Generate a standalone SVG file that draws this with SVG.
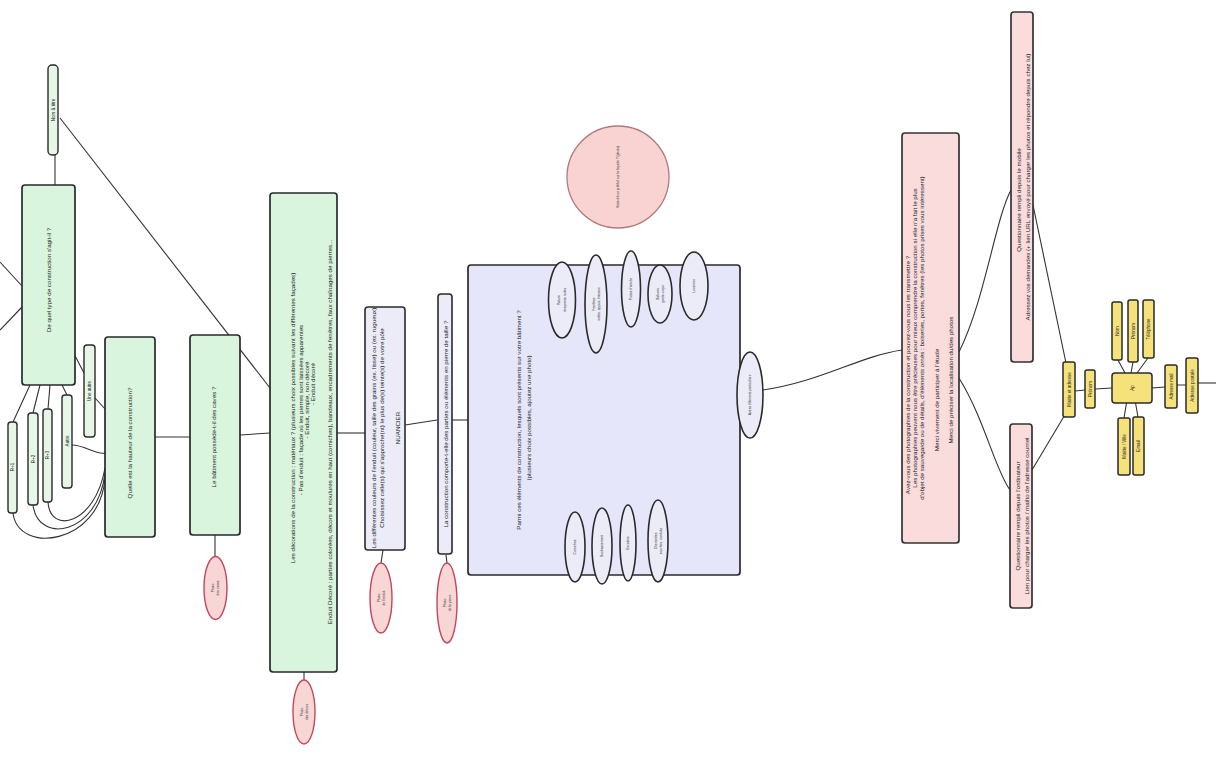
<svg xmlns="http://www.w3.org/2000/svg" width="1216" height="765" viewBox="0 0 1216 765">
<style>
text{font-family:"Liberation Sans",Arial,sans-serif;fill:#222;dominant-baseline:central;text-anchor:middle}
.g{fill:#d9f5dd;stroke:#2a2a2a;stroke-width:1.7}
.gs{fill:#e6f7e8;stroke:#2a2a2a;stroke-width:1.4}
.l{fill:#e6e6fa;stroke:#2a2a2a;stroke-width:1.7}
.p{fill:#fadcdc;stroke:#333;stroke-width:1.7}
.r{fill:#f8d6d6;stroke:#c0485a;stroke-width:1.4}
.w{fill:#ececf8;stroke:#2a2a2a;stroke-width:1.6}
.y{fill:#f6e27a;stroke:#2a2a2a;stroke-width:1.5}
.c{fill:none;stroke:#333;stroke-width:1.1}
.t6{font-size:6.2px}
.t5{font-size:4.5px}
.t3{font-size:3.3px}
</style>
<rect width="1216" height="765" fill="#fff"/>
<g id="connectors">
<path class="c" d="M0,262 L22,286 M0,330 L22,307"/>
<path class="c" d="M55,155 L55,185"/>
<path class="c" d="M60,118 L270,388"/>
<path class="c" d="M30,385 L13,422 M40,385 L33,413 M50,385 L48,409 M62,385 L67,395"/>
<path class="c" d="M72,350 L84,373 M95,398 L106,410"/>
<path class="c" d="M72,445 C85,445 95,455 105,453"/>
<path class="c" d="M48,502 C50,535 95,525 105,468"/>
<path class="c" d="M33,505 C38,545 98,535 105,473"/>
<path class="c" d="M13,513 C18,555 100,545 105,478"/>
<path class="c" d="M155,437 L190,437"/>
<path class="c" d="M240,435 L270,433"/>
<path class="c" d="M215,535 L215,557"/>
<path class="c" d="M304,672 L304,680"/>
<path class="c" d="M337,433 L365,433"/>
<path class="c" d="M405,425 L437,420"/>
<path class="c" d="M383,550 L381,563"/>
<path class="c" d="M446,555 L447,563"/>
<path class="c" d="M452,420 L468,420"/>
<path class="c" d="M763,390 C820,382 860,356 902,350"/>
<path class="c" d="M959,352 C985,300 995,220 1011,190"/>
<path class="c" d="M959,378 C985,420 995,470 1010,490"/>
<path class="c" d="M1033,205 L1066,363"/>
<path class="c" d="M1032,470 L1066,413"/>
<path class="c" d="M1075,391 L1085,390 M1095,389 L1112,388"/>
<path class="c" d="M1125,373 L1118,360 M1131,373 L1133,362 M1137,373 L1148,358"/>
<path class="c" d="M1127,400 L1124,418 M1135,400 L1138,417"/>
<path class="c" d="M1152,388 L1165,387 M1177,385 L1186,385"/>
<path class="c" d="M1198,383 L1216,383" stroke="#888"/>
</g>
<g id="n_titre"><rect class="gs" x="48" y="65" width="10" height="90" rx="4"/><text class="t5" transform="translate(53,110) rotate(-90)">Nom &amp; titre</text></g>
<g id="n_type"><rect class="g" x="22" y="185" width="53" height="200" rx="3"/><text class="t6" transform="translate(48,280) rotate(-90)">De quel type de construction s'agit-il ?</text></g>
<g id="n_opt1"><rect class="gs" x="84" y="345" width="11" height="92" rx="3"/><text class="t5" transform="translate(89.5,391) rotate(-90)">Une autre</text></g>
<g id="n_opt2"><rect class="gs" x="62" y="395" width="10" height="93" rx="3"/><text class="t5" transform="translate(67,441) rotate(-90)">Autre</text></g>
<g id="n_opt3"><rect class="gs" x="43" y="409" width="9" height="93" rx="3"/><text class="t5" transform="translate(47.5,455) rotate(-90)">R+3</text></g>
<g id="n_opt4"><rect class="gs" x="28" y="413" width="10" height="92" rx="3"/><text class="t5" transform="translate(33,459) rotate(-90)">R+2</text></g>
<g id="n_opt5"><rect class="gs" x="8" y="422" width="9" height="91" rx="3"/><text class="t5" transform="translate(12.5,467) rotate(-90)">R+1</text></g>
<g id="n_hauteur"><rect class="g" x="105" y="337" width="50" height="200" rx="3"/><text class="t6" transform="translate(129,443) rotate(-90)">Quelle est la hauteur de la construction?</text></g>
<g id="n_caves"><rect class="g" x="190" y="335" width="50" height="200" rx="3"/><text class="t6" transform="translate(213,437) rotate(-90)">Le bâtiment possède-t-il des caves ?</text></g>
<g id="n_r1"><ellipse class="r" cx="215.5" cy="588" rx="11.5" ry="31.5"/><text class="t3" transform="translate(213,588) rotate(-90)">Photo</text><text class="t3" transform="translate(218,588) rotate(-90)">des caves</text></g>
<g id="n_decor"><rect class="g" x="270" y="193" width="67" height="479" rx="3"/>
<text class="t6" transform="translate(292,418) rotate(-90)">Les décorations de la construction : matériaux ? (plusieurs choix possibles suivant les différentes façades)</text>
<text class="t6" transform="translate(300,410) rotate(-90)">- Pas d'enduit : façade où les pierres sont laissées apparentes</text>
<text class="t6" transform="translate(306,400) rotate(-90)">- Enduit, simple, non décoré</text>
<text class="t6" transform="translate(312,384) rotate(-90)">- Enduit décoré</text>
<text class="t6" transform="translate(329,432) rotate(-90)">Enduit Décoré : parties colorées, décors et moulures en haut (corniches), bandeaux, encadrements de fenêtres, faux chaînages de pierres...</text>
</g>
<g id="n_r2"><ellipse class="r" cx="304" cy="712" rx="11" ry="32"/><text class="t3" transform="translate(302,712) rotate(-90)">Photo</text><text class="t3" transform="translate(307,712) rotate(-90)">des décors</text></g>
<g id="n_couleur"><rect class="w" x="365" y="307" width="40" height="243" rx="3"/>
<text class="t6" transform="translate(373,428) rotate(-90)">Les différentes couleurs de l'enduit (couleur, taille des grains (ex. lisse) ou (ex. rugueux)</text>
<text class="t6" transform="translate(381,428) rotate(-90)">Choisissez celle(s) qui s'approche(nt) le plus de(s) teinte(s) de votre pôle</text>
<text class="t6" transform="translate(397,428) rotate(-90)">NUANCIER</text>
</g>
<g id="n_r3"><ellipse class="r" cx="381" cy="598" rx="11" ry="35"/><text class="t3" transform="translate(379,598) rotate(-90)">Photo</text><text class="t3" transform="translate(384,598) rotate(-90)">de l'enduit</text></g>
<g id="n_pierre"><rect class="w" x="438" y="294" width="14" height="260" rx="3"/><text class="t6" transform="translate(445,424) rotate(-90)">La construction comporte-t-elle des parties ou éléments en pierre de taille ?</text></g>
<g id="n_r4"><ellipse class="r" cx="447" cy="603" rx="10" ry="40"/><text class="t3" transform="translate(445,603) rotate(-90)">Photo</text><text class="t3" transform="translate(450,603) rotate(-90)">de la pierre</text></g>
<g id="n_elements"><rect class="l" x="468" y="265" width="272" height="310" rx="3"/>
<text class="t6" transform="translate(518,420) rotate(-90)">Parmi ces éléments de construction, lesquels sont présents sur votre bâtiment ?</text>
<text class="t6" transform="translate(528,418) rotate(-90)">(plusieurs choix possibles, ajoutez une photo)</text>
</g>
<g id="n_e1"><ellipse class="w" cx="562" cy="300" rx="13.5" ry="38"/><text class="t3" transform="translate(559,300) rotate(-90)">Toiture</text><text class="t3" transform="translate(565,300) rotate(-90)">charpente, tuiles</text></g>
<g id="n_e2"><ellipse class="w" cx="596" cy="304" rx="11" ry="49"/><text class="t3" transform="translate(594,304) rotate(-90)">Fenêtres</text><text class="t3" transform="translate(599,304) rotate(-90)">volets, appuis, linteaux</text></g>
<g id="n_e3"><ellipse class="w" cx="631" cy="289" rx="9.5" ry="38"/><text class="t3" transform="translate(631,289) rotate(-90)">Portes d'entrée</text></g>
<g id="n_e4"><ellipse class="w" cx="660" cy="294" rx="12" ry="29"/><text class="t3" transform="translate(658,294) rotate(-90)">Balcons</text><text class="t3" transform="translate(663,294) rotate(-90)">garde-corps</text></g>
<g id="n_e5"><ellipse class="w" cx="694" cy="286" rx="14" ry="34"/><text class="t3" transform="translate(694,286) rotate(-90)">Lucarnes</text></g>
<g id="n_b1"><ellipse class="w" cx="575" cy="547" rx="10" ry="35"/><text class="t3" transform="translate(575,547) rotate(-90)">Corniches</text></g>
<g id="n_b2"><ellipse class="w" cx="602" cy="546" rx="10" ry="38"/><text class="t3" transform="translate(602,546) rotate(-90)">Soubassement</text></g>
<g id="n_b3"><ellipse class="w" cx="628" cy="543" rx="8" ry="38"/><text class="t3" transform="translate(628,543) rotate(-90)">Escaliers</text></g>
<g id="n_b4"><ellipse class="w" cx="658" cy="541" rx="10" ry="41"/><text class="t3" transform="translate(656,541) rotate(-90)">Cheminées</text><text class="t3" transform="translate(661,541) rotate(-90)">souches, conduits</text></g>
<g id="n_autres"><ellipse class="w" cx="750" cy="395" rx="13" ry="43"/><text class="t3" transform="translate(750,395) rotate(-90)">Autres éléments particuliers</text></g>
<g id="n_prefere"><circle cx="618" cy="177" r="51" fill="#f9d2d2" stroke="#b07a7a" stroke-width="1.3"/><text class="t3" transform="translate(618,177) rotate(-90)">Votre décor préféré sur la façade ? (photo)</text></g>
<g id="n_photos"><rect class="p" x="902" y="133" width="57" height="410" rx="3"/>
<text class="t6" transform="translate(907,375) rotate(-90)">Avez-vous des photographies de la construction et pouvez-vous nous les transmettre ?</text>
<text class="t6" transform="translate(914,338) rotate(-90)">Les photographies peuvent nous être précieuses pour mieux comprendre la construction si elle n'a fait le plus</text>
<text class="t6" transform="translate(921,338) rotate(-90)">d'objet de sauvegarde ou de détails, d'éléments ornés : boiseries, portes, fenêtres (les photos prises vous intéressent)</text>
<text class="t6" transform="translate(936,400) rotate(-90)">Merci vivement de participer à l'étude</text>
<text class="t6" transform="translate(950,380) rotate(-90)">Merci de préciser la localisation du/des photos</text>
</g>
<g id="n_mobile"><rect class="p" x="1011" y="12" width="22" height="350" rx="3"/>
<text class="t6" transform="translate(1018,200) rotate(-90)">Questionnaire rempli depuis le mobile</text>
<text class="t6" transform="translate(1027,187) rotate(-90)">Adressez vos demandes (+ lien URL envoyé pour charger les photos et répondre depuis chez lui)</text>
</g>
<g id="n_ordi"><rect class="p" x="1010" y="424" width="22" height="184" rx="3"/>
<text class="t6" transform="translate(1017,516) rotate(-90)">Questionnaire rempli depuis l'ordinateur</text>
<text class="t6" transform="translate(1026,516) rotate(-90)">Lien pour charger les photos / mailto de l'adresse courriel</text>
</g>
<g id="n_mairie"><rect class="y" x="1063" y="362" width="12" height="55" rx="2"/><text class="t5" transform="translate(1069,389.5) rotate(-90)">Mairie et adresse</text></g>
<g id="n_prenom"><rect class="y" x="1085" y="370" width="10" height="38" rx="2"/><text class="t5" transform="translate(1090,389) rotate(-90)">Prénom</text></g>
<g id="n_ap"><rect class="y" x="1112" y="373" width="40" height="30" rx="3"/><text class="t5" transform="translate(1132,388) rotate(-90)">Ap</text></g>
<g id="n_t1"><rect class="y" x="1112" y="302" width="10" height="58" rx="2"/><text class="t5" transform="translate(1117,331) rotate(-90)">Nom</text></g>
<g id="n_t2"><rect class="y" x="1128" y="300" width="10" height="62" rx="2"/><text class="t5" transform="translate(1133,331) rotate(-90)">Prénom</text></g>
<g id="n_t3"><rect class="y" x="1143" y="300" width="11" height="58" rx="2"/><text class="t5" transform="translate(1148.5,329) rotate(-90)">Téléphone</text></g>
<g id="n_bt1"><rect class="y" x="1118" y="418" width="12" height="57" rx="2"/><text class="t5" transform="translate(1124,446.5) rotate(-90)">Mairie / Ville</text></g>
<g id="n_bt2"><rect class="y" x="1133" y="417" width="11" height="58" rx="2"/><text class="t5" transform="translate(1138.5,446) rotate(-90)">Email</text></g>
<g id="n_mail"><rect class="y" x="1165" y="365" width="12" height="43" rx="2"/><text class="t5" transform="translate(1171,386.5) rotate(-90)">Adresse mail</text></g>
<g id="n_postale"><rect class="y" x="1186" y="358" width="12" height="55" rx="2"/><text class="t5" transform="translate(1192,385.5) rotate(-90)">Adresse postale</text></g>
</svg>
